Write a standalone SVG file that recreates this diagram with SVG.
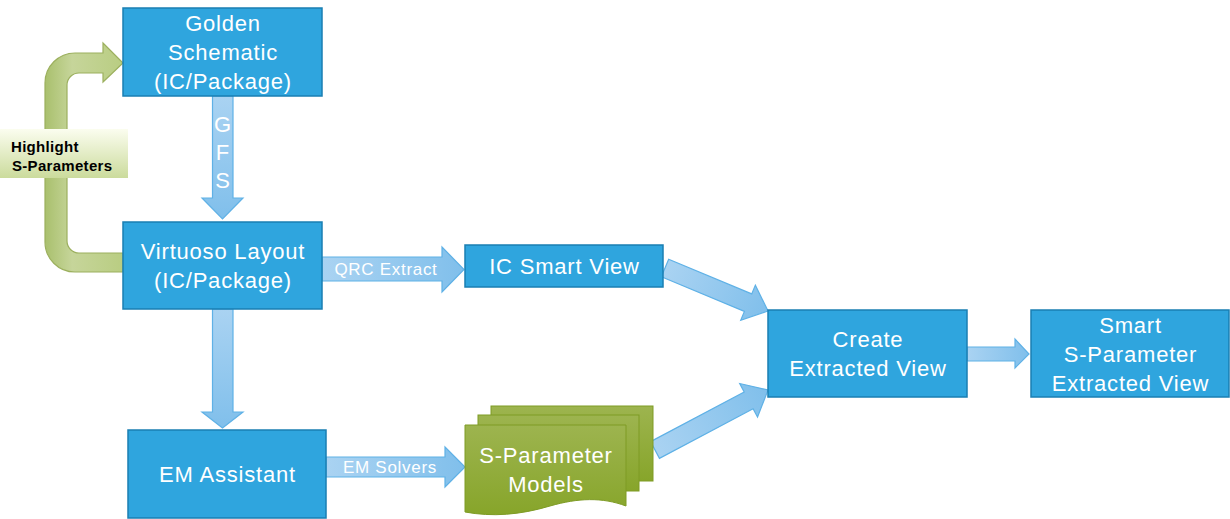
<svg xmlns="http://www.w3.org/2000/svg" width="1230" height="519" viewBox="0 0 1230 519">
<defs>
<linearGradient id="ag" x1="0" y1="0" x2="1" y2="0"><stop offset="0" stop-color="#aad3f2"/><stop offset="1" stop-color="#80bfeb"/></linearGradient>
<linearGradient id="agv" x1="0" y1="0" x2="0" y2="1"><stop offset="0" stop-color="#aad3f2"/><stop offset="1" stop-color="#80bfeb"/></linearGradient>
<linearGradient id="gg" x1="0" y1="0" x2="1" y2="0"><stop offset="0" stop-color="#a9c06d"/><stop offset="0.35" stop-color="#c6d59a"/><stop offset="1" stop-color="#b9cd82"/></linearGradient>
<linearGradient id="lg" x1="0" y1="0" x2="0" y2="1"><stop offset="0" stop-color="#fbfdef"/><stop offset="1" stop-color="#cbdb9c"/></linearGradient>
<linearGradient id="dg" x1="0" y1="0" x2="0" y2="1"><stop offset="0" stop-color="#9db44f"/><stop offset="1" stop-color="#87a52a"/></linearGradient>
</defs>
<style>
.box{fill:#2fa5de;stroke:#1a7fb3;stroke-width:1.5}
.t{font-family:"Liberation Sans",Arial,sans-serif;font-size:22px;letter-spacing:0.8px;fill:#ffffff;text-anchor:middle}
.g{font-family:"Liberation Sans",Arial,sans-serif;font-size:22px;fill:#ffffff;text-anchor:middle}
.al{font-family:"Liberation Sans",Arial,sans-serif;font-size:17px;letter-spacing:0.7px;fill:#ffffff;text-anchor:middle}
.hl{font-family:"Liberation Sans",Arial,sans-serif;font-size:15px;letter-spacing:0.3px;font-weight:bold;fill:#000000}
.arr{stroke:#5fb1e6;stroke-width:1.2}
.doc{fill:url(#dg);stroke:#7e9b25;stroke-width:1}
</style>
<g id="connectors">
<g id="highlight-arrow">
<path d="M123,272 H75 A30,30 0 0 1 45,242 V83 A30,30 0 0 1 75,53 H103 V43 L123,63 L103,82 V73 H79 A12,12 0 0 0 67,85 V241 A12,12 0 0 0 79,253 H123 Z" fill="url(#gg)" stroke="#9cb05e" stroke-width="1.2"/>
</g>
<g id="gfs-arrow">
<path class="arr" fill="url(#agv)" d="M212.5,96 H233 V198 H243 L222.5,219 L202,198 H212.5 Z"/>
<text class="g" x="222.5" y="132">G</text>
<text class="g" x="222.5" y="160">F</text>
<text class="g" x="222.5" y="188">S</text>
</g>
<g id="em-arrow-down">
<path class="arr" fill="url(#agv)" d="M212.5,309 H233 V412 H243 L222.5,428 L202,412 H212.5 Z"/>
</g>
<g id="qrc-arrow">
<path class="arr" fill="url(#ag)" d="M322,257 H442 V247 L464,269.5 L442,292 V281 H322 Z"/>
<text class="al" x="386" y="275">QRC Extract</text>
</g>
<g id="em-solvers-arrow">
<path class="arr" fill="url(#ag)" d="M326,457 H445 V447 L465,467 L445,487 V477 H326 Z"/>
<text class="al" x="390" y="473">EM Solvers</text>
</g>
<g id="diag-upper" transform="translate(665,268) rotate(22.66)">
<path class="arr" fill="url(#ag)" d="M0,-9.5 H90 V-19 L111.6,0 L90,19 V9.5 H0 Z"/>
</g>
<g id="diag-lower" transform="translate(655,450) rotate(-27.96)">
<path class="arr" fill="url(#ag)" d="M0,-9.5 H106 V-19 L128,0 L106,19 V9.5 H0 Z"/>
</g>
<g id="right-arrow">
<path class="arr" fill="url(#ag)" d="M967,347 H1015 V339 L1029,354 L1015,368 V361 H967 Z"/>
</g>
</g>
<g id="golden-schematic">
<rect class="box" x="123" y="8" width="199" height="88"/>
<text class="t" x="223" y="31">Golden</text>
<text class="t" x="223" y="60">Schematic</text>
<text class="t" x="223" y="89">(IC/Package)</text>
</g>
<g id="virtuoso-layout">
<rect class="box" x="123" y="222" width="199" height="87"/>
<text class="t" x="223" y="259">Virtuoso Layout</text>
<text class="t" x="223" y="288">(IC/Package)</text>
</g>
<g id="ic-smart-view">
<rect class="box" x="465" y="245" width="198" height="42"/>
<text class="t" x="564.5" y="274">IC Smart View</text>
</g>
<g id="em-assistant">
<rect class="box" x="128" y="430" width="198" height="88"/>
<text class="t" x="227.5" y="482">EM Assistant</text>
</g>
<g id="create-extracted-view">
<rect class="box" x="768" y="310" width="199" height="87"/>
<text class="t" x="868" y="347">Create</text>
<text class="t" x="868" y="376">Extracted View</text>
</g>
<g id="smart-sparam-view">
<rect class="box" x="1031" y="310" width="198" height="87"/>
<text class="t" x="1130.5" y="333">Smart</text>
<text class="t" x="1130.5" y="362">S-Parameter</text>
<text class="t" x="1130.5" y="391">Extracted View</text>
</g>
<g id="sparam-models">
<rect class="doc" x="491" y="406" width="162" height="75"/>
<rect class="doc" x="478" y="415" width="161" height="76"/>
<path class="doc" d="M465,425 H626 V506 C602,497 578,498 550,506 C520,515 492,517 465,512 Z"/>
<text class="t" x="546" y="463">S-Parameter</text>
<text class="t" x="546" y="492">Models</text>
</g>
<g id="highlight-label">
<rect x="0" y="129" width="128" height="49" fill="url(#lg)"/>
<text class="hl" x="11" y="152">Highlight</text>
<text class="hl" x="12" y="171">S-Parameters</text>
</g>
</svg>
